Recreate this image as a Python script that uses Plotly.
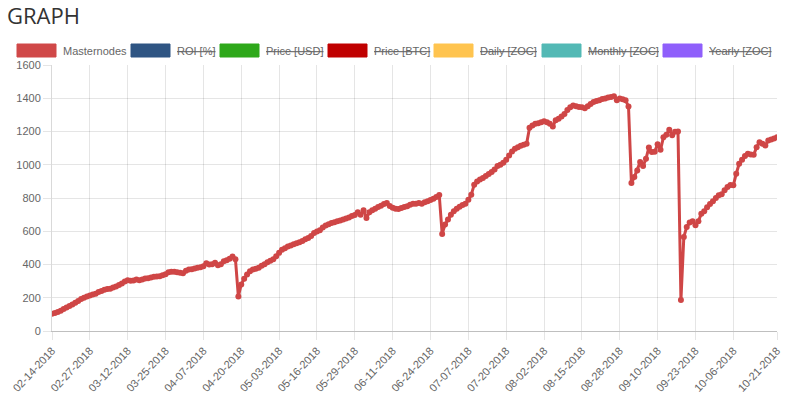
import pandas as pd
import plotly.graph_objects as go

# ---- data ----
dates = [d.strftime("%m-%d-%Y") for d in pd.date_range("2018-02-14", "2018-10-21", freq="D")]

masternodes = [
    104, 108, 114, 122, 132, 142, 150, 160, 170, 180,
    192, 200, 208, 214, 220, 224, 234, 240, 248, 252,
    254, 262, 268, 276, 286, 298, 306, 302, 304, 310,
    306, 310, 316, 318, 322, 326, 328, 330, 336, 342,
    354, 356, 356, 354, 350, 348, 362, 370, 372, 376,
    380, 384, 390, 408, 400, 402, 410, 396, 402, 420,
    426, 434, 448, 432, 208, 280, 315, 340, 360, 370,
    374, 380, 392, 402, 414, 422, 432, 450, 470, 488,
    498, 508, 514, 522, 528, 534, 542, 552, 560, 572,
    590, 598, 606, 622, 634, 642, 650, 654, 660, 664,
    670, 676, 682, 692, 698, 714, 700, 726, 680, 714,
    726, 736, 746, 754, 764, 770, 752, 742, 736, 734,
    740, 746, 750, 760, 766, 766, 770, 766, 774, 780,
    788, 796, 806, 818, 584, 640, 670, 700, 720, 736,
    748, 758, 766, 790, 820, 880, 900, 912, 920, 932,
    944, 956, 972, 992, 1000, 1012, 1030, 1056, 1080, 1096,
    1106, 1114, 1120, 1126, 1222, 1236, 1246, 1250, 1256, 1262,
    1256, 1246, 1230, 1268, 1276, 1290, 1306, 1330, 1346, 1356,
    1352, 1348, 1346, 1340, 1352, 1366, 1378, 1384, 1388, 1396,
    1398, 1404, 1408, 1412, 1388, 1398, 1394, 1388, 1350, 890,
    926, 966, 1016, 992, 1036, 1104, 1076, 1078, 1124, 1090,
    1166, 1180, 1210, 1178, 1198, 1200, 186, 566, 626, 652,
    660, 636, 660, 706, 720, 744, 764, 780, 800, 816,
    822, 846, 866, 878, 876, 946, 1006, 1030, 1052, 1066,
    1062, 1060, 1106, 1136, 1126, 1116, 1146, 1152, 1158, 1166,
]

tick_labels = dates[0:235:13] + [dates[-1]]
y_ticks = list(range(0, 1601, 200))

legend_names = ["Masternodes", "ROI [%]", "Price [USD]", "Price [BTC]",
                "Daily [ZOC]", "Monthly [ZOC]", "Yearly [ZOC]"]
legend_hidden = [False, True, True, True, True, True, True]

# ---- styles / layout ----
legend_colors = ["#d04848", "#2f5583", "#2ea81a", "#c00000", "#ffc44f", "#53b9b5", "#8f5ffb"]
legend_box_left = [17, 131, 220, 328, 434, 542, 663]  # page pixel positions

W, H = 800, 395
L, R, T, B = 52, 800 - 777, 65, 395 - 331
PW, PH = W - L - R, H - T - B

def px(x):
    return (x - L) / PW

def py(y):
    return (H - B - y) / PH

FONT = "Liberation Sans, Arial, sans-serif"
line_color = "#cf4646"

fig = go.Figure()
fig.add_trace(go.Scatter(
    x=dates, y=masternodes, mode="lines+markers",
    line=dict(color=line_color, width=3),
    marker=dict(color=line_color, size=6),
    showlegend=False,
))

shapes = []
annotations = []
for name, col, hid, bx in zip(legend_names, legend_colors, legend_hidden, legend_box_left):
    shapes.append(dict(type="rect", xref="paper", yref="paper",
                       x0=px(bx), x1=px(bx + 39), y0=py(57), y1=py(44),
                       fillcolor=col, line=dict(color=col, width=1)))
    text = f"<s>{name}</s>" if hid else name
    annotations.append(dict(xref="paper", yref="paper", x=px(bx + 44), y=py(50.5),
                            xanchor="left", yanchor="middle", showarrow=False,
                            text=text, font=dict(family=FONT, size=11, color="#666666")))

annotations.append(dict(xref="paper", yref="paper", x=px(5), y=py(15),
                        xanchor="left", yanchor="middle", showarrow=False,
                        text="GRAPH", font=dict(family="Open Sans", size=22, color="#333333")))

fig.update_layout(
    width=W, height=H,
    margin=dict(l=L, r=R, t=T, b=B, autoexpand=False),
    paper_bgcolor="white", plot_bgcolor="white",
    shapes=shapes, annotations=annotations,
    showlegend=False,
    font=dict(family=FONT, size=11, color="#666666"),
)
fig.update_xaxes(
    type="category", categoryorder="array", categoryarray=dates,
    range=[0, len(dates) - 1], automargin=False,
    tickmode="array", tickvals=tick_labels, ticktext=tick_labels,
    tickangle=-47, showgrid=True, gridcolor="rgba(0,0,0,0.1)", gridwidth=1,
    ticks="outside", ticklen=8, tickcolor="rgba(0,0,0,0.1)",
    showline=True, linecolor="rgba(0,0,0,0.25)", linewidth=1,
    tickfont=dict(family=FONT, size=11, color="#666666"),
    zeroline=False,
)
fig.update_yaxes(
    range=[0, 1600], tickmode="array", tickvals=y_ticks, automargin=False,
    showgrid=True, gridcolor="rgba(0,0,0,0.1)", gridwidth=1,
    ticks="outside", ticklen=8, tickcolor="rgba(0,0,0,0.1)",
    showline=True, linecolor="rgba(0,0,0,0.15)", linewidth=1,
    tickfont=dict(family=FONT, size=11, color="#666666"),
    zeroline=False,
)

fig.write_html("out.html", config={"displayModeBar": False},
               post_script="document.body.style.margin='0';")
